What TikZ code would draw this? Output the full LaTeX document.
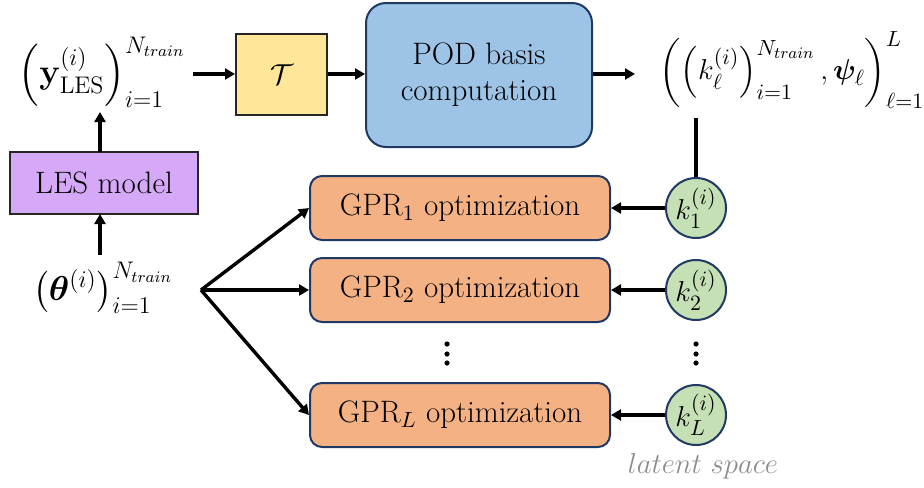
\documentclass[tikz,border=0pt]{standalone}
\usepackage{amsmath,bm}
\usetikzlibrary{arrows.meta}
\definecolor{lespurple}{HTML}{D6A8F8}
\definecolor{tyellow}{HTML}{FFE699}
\definecolor{podblue}{HTML}{9DC3E6}
\definecolor{gprorange}{HTML}{F4B183}
\definecolor{kgreen}{HTML}{C5E0B4}
\definecolor{edgeblue}{HTML}{1F3864}
\begin{document}
\begin{tikzpicture}[x=0.5pt,y=-0.5pt,
  every node/.style={font=\fontsize{15.5}{18}\selectfont},
  sqbox/.style={draw=black!85,line width=1pt,inner sep=0pt},
  rbox/.style={draw=edgeblue,line width=1pt,rounded corners=6pt,inner sep=0pt},
  kcirc/.style={circle,draw=edgeblue,line width=1pt,fill=kgreen,minimum size=30pt,inner sep=0pt},
  arr/.style={line width=1.7pt,-{Triangle[length=5pt,width=5.5pt]}},
  ln/.style={line width=1.7pt},
  mathlbl/.style={inner sep=0pt,font=\fontsize{17}{20}\selectfont}]
\useasboundingbox (0,0) rectangle (924,487);

% left column
\node[mathlbl] (y) at (102,72) {$\left(\mathbf{y}^{(i)}_{\mathrm{LES}}\right)^{N_{train}}_{i=1}$};
\node[sqbox,fill=lespurple,minimum width=94pt,minimum height=31pt] (les) at (104,183) {LES model};
\node[mathlbl] (th) at (103,288) {$\left(\boldsymbol{\theta}^{(i)}\right)^{N_{train}}_{i=1}$};

% top row
\node[sqbox,fill=tyellow,minimum width=45.5pt,minimum height=40.5pt] (T) at (281.5,74.5) {$\mathcal{T}$};
\node[rbox,rounded corners=10pt,fill=podblue,minimum width=113pt,minimum height=72pt,align=center] (pod) at (479,75) {POD basis\\computation};
\node[mathlbl,font=\fontsize{15.5}{18}\selectfont] (out) at (792,70) {$\left(\left(k^{(i)}_{\ell}\right)^{N_{train}}_{i=1},\boldsymbol{\psi}_{\ell}\right)^{L}_{\ell=1}$};

% GPR boxes
\node[rbox,fill=gprorange,minimum width=150pt,minimum height=32pt] (g1) at (460,208) {GPR$_1$ optimization};
\node[rbox,fill=gprorange,minimum width=150pt,minimum height=32pt] (g2) at (460,290) {GPR$_2$ optimization};
\node[rbox,fill=gprorange,minimum width=150pt,minimum height=32pt] (gL) at (460,415) {GPR$_L$ optimization};

% latent circles
\node[kcirc] (k1) at (696,208) {$k^{(i)}_1$};
\node[kcirc] (k2) at (696,290) {$k^{(i)}_2$};
\node[kcirc] (kL) at (696,415) {$k^{(i)}_L$};
\node[text=black!45,font=\fontsize{13.5}{16}\selectfont] (lat) at (703,466) {$latent\ space$};

% dots
\foreach \yy in {344,354,363} {
  \fill (447,\yy) circle (1.3pt);
  \fill (696,\yy) circle (1.3pt);
}

% coordinates
\coordinate (ytail) at (193,74);
\coordinate (yhead) at (100,112);
\coordinate (lestop) at (100,152);
\coordinate (lesbot) at (100,214);
\coordinate (thtop) at (100,255);
\coordinate (fan) at (201,290);
\coordinate (podout) at (635,74);
\coordinate (outbot) at (696,118);

% connectors
\draw[arr] (ytail) -- (T.west |- ytail);
\draw[arr] (T.east |- ytail) -- (pod.west |- ytail);
\draw[arr] (pod.east |- ytail) -- (podout);
\draw[arr] (lestop) -- (yhead);
\draw[arr] (thtop) -- (lesbot);
\draw[arr] (fan) -- (g1.west);
\draw[arr] (fan) -- (g2.west);
\draw[arr] (fan) -- (gL.west);
\draw[ln] (outbot) -- (k1.north);
\draw[arr] (k1.west) -- (g1.east);
\draw[arr] (k2.west) -- (g2.east);
\draw[arr] (kL.west) -- (gL.east);
\end{tikzpicture}
\end{document}
